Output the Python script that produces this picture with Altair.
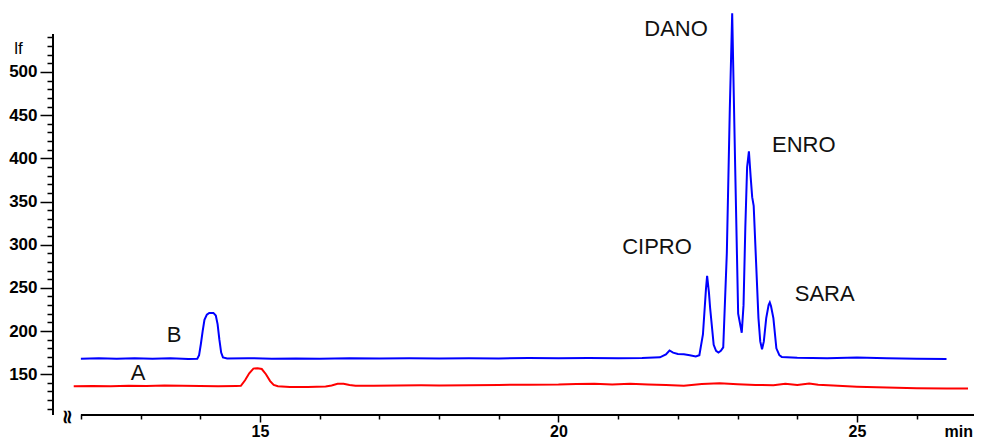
import altair as alt
import pandas as pd

# ---------------- data ----------------
# Trace B (blue): retention time (min) and fluorescence intensity
b_time = [12.0, 12.3, 12.6, 12.9, 13.2, 13.5, 13.8, 13.95, 13.98, 14.01, 14.04, 14.07, 14.11, 14.15,
          14.22, 14.26, 14.29, 14.32, 14.35, 14.38, 14.45, 14.8, 15.2, 15.6, 16.0, 16.5, 17.0,
          17.5, 18.0, 18.5, 19.0, 19.5, 20.0, 20.5, 21.0, 21.4, 21.7, 21.8, 21.86, 21.92, 22.0,
          22.1, 22.2, 22.3, 22.36, 22.42, 22.47, 22.49, 22.52, 22.54, 22.6, 22.64, 22.68, 22.72,
          22.76, 22.82, 22.87, 22.91, 22.96, 23.01, 23.07, 23.1, 23.13, 23.16, 23.19, 23.22,
          23.245, 23.27, 23.31, 23.35, 23.38, 23.41, 23.44, 23.48, 23.52, 23.54, 23.56, 23.6,
          23.65, 23.7, 23.74, 24.0, 24.5, 25.0, 25.5, 26.0, 26.5]
b_signal = [168.0, 168.5, 167.8, 168.6, 168.0, 168.4, 167.6, 168.0, 172, 185, 200, 213, 219, 221,
            221, 218, 208, 190, 175, 169.5, 168.2, 168.5, 168.0, 168.3, 167.9, 168.4, 168.1,
            168.5, 168.2, 168.6, 168.3, 168.7, 168.4, 168.8, 168.5, 168.8, 169.5, 173, 177.5, 175, 173.5,
            173, 172, 170.5, 172, 196, 248, 264, 245, 227, 184, 177, 175, 177,
            181, 290, 457, 568, 390, 220, 198, 230, 320, 390, 408, 378,
            355, 345, 280, 215, 188, 179, 188, 215, 230, 233, 229, 215,
            180, 172, 170, 169.0, 168.6, 169.2, 168.4, 167.9, 167.6]

# Trace A (red)
a_time = [11.88, 12.2, 12.5, 12.8, 13.1, 13.4, 13.7, 14.0, 14.3, 14.6, 14.68, 14.75, 14.82, 14.89,
          14.96, 15.03, 15.1, 15.17, 15.23, 15.3, 15.5, 15.8, 16.1, 16.2, 16.3, 16.4, 16.5,
          16.6, 16.9, 17.3, 17.7, 18.0, 18.5, 19.0, 19.5, 20.0, 20.3, 20.6, 20.9, 21.2, 21.5,
          21.8, 22.1, 22.4, 22.7, 23.0, 23.3, 23.6, 23.8, 24.0, 24.2, 24.35, 24.6, 25.0, 25.5,
          26.0, 26.5, 26.86]
a_signal = [136.0, 136.4, 136.1, 136.6, 136.3, 136.8, 136.5, 136.2, 136.0, 136.3, 136.5, 143, 151, 156.5,
            157, 156, 150, 142, 137.5, 136.0, 135.3, 135.2, 135.8, 137, 138.8, 138.8, 137.5,
            136.5, 136.6, 136.9, 137.1, 136.8, 137.2, 137.6, 137.9, 138.0, 138.6, 138.9, 138.2, 138.8, 138.0,
            137.4, 136.6, 138.6, 139.5, 138.4, 137.6, 137.2, 139.0, 137.6, 139.2, 137.8, 136.8, 135.6, 134.6,
            133.8, 133.5, 133.4]

# Peak / trace annotations
ann_text = ["DANO", "ENRO", "CIPRO", "SARA", "B", "A"]
ann_time = [21.97, 24.11, 21.65, 24.46, 13.56, 12.96]
ann_signal = [550, 416, 297.5, 243.4, 195, 151]

# Axes
y_ticks = list(range(110, 550, 10))
x_ticks = list(range(12, 28))
y_axis_span = [102.75, 544]
x_axis_span = [12, 27]
break_mark = ["≈"]
break_pos = [11.77, 100.4]

# ---------------- chart ----------------
FONT = "Liberation Sans"
W, H = 919, 406
xs = alt.Scale(domain=[11.533, 26.927], nice=False, zero=False)
ys = alt.Scale(domain=[102.75, 572.96], nice=False, zero=False)

traces = pd.concat([
    pd.DataFrame({"t": b_time, "v": b_signal, "trace": "B"}),
    pd.DataFrame({"t": a_time, "v": a_signal, "trace": "A"}),
])

x_axis = alt.Axis(
    values=x_ticks, domain=False, grid=False,
    labelExpr="datum.value % 5 === 0 ? datum.label : ''",
    tickSize={"condition": {"test": "datum.value % 5 === 0", "value": 7}, "value": 4},
    tickColor="black", tickWidth=1.5,
    labelFont=FONT, labelFontSize=16, labelFontWeight="bold", labelColor="black",
    labelPadding=1, labelBaseline="top",
    title="min", titleFont=FONT, titleFontSize=16, titleFontWeight="bold", titleColor="black",
    titleX=891, titleY=21, titleAlign="left", titleBaseline="alphabetic", titleAngle=0,
)
y_axis = alt.Axis(
    values=y_ticks, domain=False, grid=False,
    labelExpr="datum.value % 50 === 0 ? datum.label : ''",
    tickSize={"condition": {"test": "datum.value % 50 === 0", "value": 13}, "value": 6},
    tickColor="black", tickWidth=1.5,
    labelFont=FONT, labelFontSize=17, labelFontWeight="bold", labelColor="black",
    labelPadding=3, labelBaseline="middle",
    title="lf", titleFont=FONT, titleFontSize=17, titleFontWeight="normal", titleColor="black",
    titleAngle=0, titleX=-35, titleY=39, titleAlign="center", titleBaseline="middle",
)

lines = alt.Chart(traces).mark_line(strokeWidth=2, interpolate="linear").encode(
    x=alt.X("t:Q", scale=xs, axis=x_axis),
    y=alt.Y("v:Q", scale=ys, axis=y_axis),
    color=alt.Color("trace:N", scale=alt.Scale(domain=["A", "B"], range=["#ff0000", "#0000ff"]), legend=None),
    detail="trace:N",
)

labels = alt.Chart(pd.DataFrame({"name": ann_text, "t": ann_time, "v": ann_signal})).mark_text(
    font=FONT, fontSize=22, color="#111111", align="center", baseline="middle"
).encode(
    x=alt.X("t:Q", scale=xs, axis=x_axis),
    y=alt.Y("v:Q", scale=ys, axis=y_axis),
    text="name:N",
)

y_line = alt.Chart(pd.DataFrame({"lo": [y_axis_span[0]], "hi": [y_axis_span[1]]})).mark_rule(
    color="black", strokeWidth=2
).encode(
    x=alt.value(0),
    y=alt.Y("hi:Q", scale=ys, axis=y_axis),
    y2="lo:Q",
)

x_line = alt.Chart(pd.DataFrame({"lo": [x_axis_span[0]], "hi": [x_axis_span[1]]})).mark_rule(
    color="black", strokeWidth=2
).encode(
    x=alt.X("lo:Q", scale=xs, axis=x_axis),
    x2="hi:Q",
    y=alt.value(H),
)

brk = alt.Chart(pd.DataFrame({"s": break_mark, "t": [break_pos[0]], "v": [break_pos[1]]})).mark_text(
    font="DejaVu Sans", fontSize=20, fontWeight="bold", angle=90, color="black",
    align="center", baseline="middle"
).encode(
    x=alt.X("t:Q", scale=xs, axis=x_axis),
    y=alt.Y("v:Q", scale=ys, axis=y_axis),
    text="s:N",
)

chart = alt.layer(lines, labels, y_line, x_line, brk).properties(
    width=W, height=H,
    autosize=alt.AutoSizeParams(type="none"),
    padding={"left": 45, "top": 1, "right": 2, "bottom": 25},
    background="white",
).configure_view(stroke=None, clip=False)

chart.save("out.html", embed_options={"renderer": "svg", "actions": False})
